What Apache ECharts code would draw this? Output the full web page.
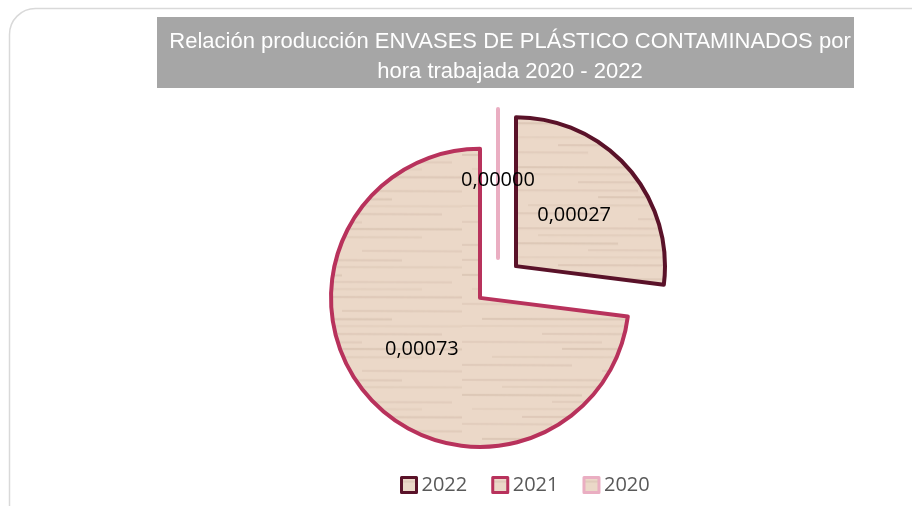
<!DOCTYPE html>
<html>
<head>
<meta charset="utf-8">
<script src="https://cdn.jsdelivr.net/npm/echarts@6/dist/echarts.min.js"></script>
<style>html,body{margin:0;padding:0;background:#fff;}#c{width:912px;height:506px;}</style>
</head>
<body>
<div id="c"></div>
<script>
var categories = ['2022', '2021', '2020'];
var values = [0.00027, 0.00073, 0.00000];
var borderColors = ['#5a1229', '#b8325c', '#eaaec2'];
var titleText = 'Relación producción ENVASES DE PLÁSTICO CONTAMINADOS por\nhora trabajada 2020 - 2022';

// wood-like texture
function makeWood() {
  var cv = document.createElement('canvas');
  cv.width = 240; cv.height = 120;
  var g = cv.getContext('2d');
  g.fillStyle = '#ebd8c8';
  g.fillRect(0, 0, 240, 120);
  var streaks = [[4,0,180,0.18],[11,40,240,0.12],[19,0,120,0.22],[26,90,230,0.14],[33,10,200,0.1],[41,60,240,0.2],[48,0,90,0.14],[55,120,240,0.16],[63,20,170,0.22],[70,0,240,0.1],[78,80,220,0.18],[86,0,140,0.14],[93,100,240,0.22],[101,30,200,0.12],[109,0,110,0.18],[115,140,240,0.14]];
  streaks.forEach(function (s) {
    g.strokeStyle = 'rgba(175,145,125,' + s[3] + ')';
    g.lineWidth = 2;
    g.beginPath(); g.moveTo(s[1], s[0]); g.lineTo(s[2], s[0] + 0.5); g.stroke();
  });
  return cv;
}
var wood = makeWood();
var woodFill = { image: wood, repeat: 'repeat' };

var chart = echarts.init(document.getElementById('c'), null, { renderer: 'canvas' });
var data = categories.map(function (c, i) {
  return {
    name: c,
    value: values[i],
    selected: true,
    itemStyle: { color: woodFill, borderColor: borderColors[i], borderWidth: 4 },
    select: { itemStyle: { color: woodFill, borderColor: borderColors[i], borderWidth: 4 } }
  };
});
chart.setOption({
  animation: false,
  graphic: [
    { type: 'rect', left: 7, top: 6, shape: { width: 930, height: 530, r: 26 }, style: { fill: 'none', stroke: '#d9d9d9', lineWidth: 1.5 }, z: -10 },
    { type: 'rect', left: 157, top: 17, shape: { width: 697, height: 71 }, style: { fill: '#a6a6a6' }, z: -5 }
  ],
  title: {
    text: titleText,
    left: 505, top: 22, textAlign: 'center',
    textStyle: { color: '#ffffff', fontFamily: 'Liberation Sans', fontWeight: 'normal', fontSize: 22, lineHeight: 30 }
  },
  legend: {
    data: categories,
    left: 395, top: 470,
    icon: 'rect', itemWidth: 15, itemHeight: 15, itemGap: 24,
    itemStyle: { borderWidth: 3 },
    textStyle: { color: '#595959', fontFamily: 'Open Sans', fontSize: 20 },
    selectedMode: false
  },
  series: [{
    type: 'pie',
    center: [498, 282],
    radius: [0, 149],
    startAngle: 90,
    clockwise: true,
    selectedMode: 'multiple',
    selectedOffset: 24,
    avoidLabelOverlap: false,
    label: {
      show: true, position: 'inside', color: '#000', fontFamily: 'Open Sans', fontSize: 20,
      formatter: function (p) { return p.value.toFixed(5).replace('.', ','); }
    },
    labelLine: { show: false },
    emphasis: { disabled: true },
    data: data
  }]
});
</script>
</body>
</html>
